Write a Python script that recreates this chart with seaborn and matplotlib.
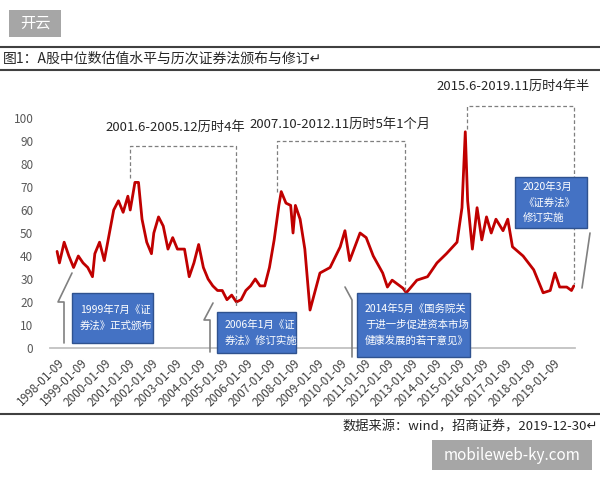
import matplotlib
matplotlib.use("Agg")
import matplotlib.pyplot as plt
import seaborn as sns
import pandas as pd
from matplotlib.patches import Rectangle

sns.set_theme(style="white")
plt.rcParams['font.family'] = ['Noto Sans CJK SC', 'DejaVu Sans']

years = [1998.0,1998.1,1998.3,1998.5,1998.7,1998.9,1999.1,1999.3,1999.5,1999.6,1999.8,2000.0,2000.2,2000.4,2000.6,2000.8,
         2001.0,2001.1,2001.3,2001.45,2001.6,2001.8,2002.0,2002.1,2002.3,2002.5,2002.7,2002.9,2003.1,2003.4,2003.6,2003.8,
         2004.0,2004.2,2004.4,2004.6,2004.8,2005.0,2005.2,2005.4,2005.6,2005.8,2006.0,2006.2,2006.4,2006.6,2006.8,2007.0,
         2007.2,2007.4,2007.5,2007.7,2007.9,2008.0,2008.1,2008.3,2008.5,2008.72,2009.14,2009.57,2010.0,2010.2,2010.4,2010.84,
         2011.1,2011.4,2011.8,2012.0,2012.2,2012.66,2012.8,2013.25,2013.7,2014.1,2014.5,2014.95,2015.16,2015.3,2015.4,2015.6,
         2015.8,2016.0,2016.2,2016.4,2016.6,2016.9,2017.1,2017.3,2017.75,2018.2,2018.6,2018.9,2019.1,2019.3,2019.6,2019.8,2019.9]
values = [42,37,46,40,35,40,37,35,31,41,46,38,49,60,64,59,
          66,60,72,72,56,46,41,50,57,53,43,48,43,43,31,37,
          45,35,30,27,25,25,21,23,20,21,25,27,30,27,27,35,
          47,62,68,63,62,50,62,56,43,16.5,32.6,35,44,51,38,50,
          48,40,32.6,26.5,29.5,26,24,29.5,31,37,41,46,61,94,64,43,
          61,47,57,50,56,51,56,44,40,34,24,25,32.6,26.5,26.5,25,27]
tick_years = list(range(1998, 2020))
tick_labels = [f"{y}-01-09" for y in tick_years]
y_ticks = list(range(0, 101, 10))

W, H = 600, 480
fig = plt.figure(figsize=(6, 4.8), dpi=100)
def fx(px): return px / W
def fy(py): return 1 - py / H

ax = fig.add_axes([fx(50), fy(348), fx(575) - fx(50), fy(118) - fy(348)])
df = pd.DataFrame({"year": years, "value": values})
sns.lineplot(data=df, x="year", y="value", ax=ax, color="#C00000", linewidth=2.0)
ax.set_xlim(1997.70, 2019.95)
ax.set_ylim(0, 100)
ax.set_xticks([y + 0.02 for y in tick_years])
ax.set_xticklabels(tick_labels, rotation=45, ha="right", rotation_mode="anchor", fontsize=8.5, color="#404040")
ax.set_yticks(y_ticks)
ax.set_yticklabels([str(v) for v in y_ticks], fontsize=8.5, color="#595959")
ax.tick_params(axis="x", length=4, color="#bfbfbf", pad=2)
ax.tick_params(axis="y", length=0, pad=12)
for s in ["top", "right", "left"]:
    ax.spines[s].set_visible(False)
ax.spines["bottom"].set_color("#bfbfbf")
ax.set_xlabel(""); ax.set_ylabel("")

dash = dict(color="#7f7f7f", linestyle=(0, (3, 2)), linewidth=0.9, clip_on=False)
def bracket(x1, x2, ytop, yb1, yb2):
    ax.plot([x1, x1, x2, x2], [yb1, ytop, ytop, yb2], **dash)
bracket(2001.07, 2005.58, 88, 74, 18)
bracket(2007.32, 2012.75, 90, 68, 25)
bracket(2015.37, 2019.9, 105, 95, 28)

ft = fig.text
ft(fx(175), fy(127), "2001.6-2005.12历时4年", ha="center", va="center", fontsize=9.5, color="#262626")
ft(fx(340), fy(124), "2007.10-2012.11历时5年1个月", ha="center", va="center", fontsize=9.5, color="#262626")
ft(fx(513), fy(86), "2015.6-2019.11历时4年半", ha="center", va="center", fontsize=9.5, color="#262626")

def box(x0, y0, x1, y1, text):
    fig.patches.append(Rectangle((fx(x0), fy(y1)), fx(x1) - fx(x0), fy(y0) - fy(y1),
                                 transform=fig.transFigure, facecolor="#4472C4", edgecolor="#2F528F", linewidth=1))
    ft(fx(x0 + 8), fy((y0 + y1) / 2), text, ha="left", va="center", fontsize=7.5, color="white", linespacing=1.7)

def poly(pts):
    fig.add_artist(plt.Line2D([fx(p[0]) for p in pts], [fy(p[1]) for p in pts], color="#808080", linewidth=1.2))

poly([(64, 343), (64, 302), (58, 302), (72, 273)])
poly([(210, 352), (210, 320), (204, 320), (213, 303)])
poly([(352, 357), (352, 300), (345, 287)])
poly([(582, 288), (590, 233)])
box(72, 293, 153, 343, "1999年7月《证\n券法》正式颁布")
box(217, 312, 296, 353, "2006年1月《证\n券法》修订实施")
box(357, 293, 470, 357, "2014年5月《国务院关\n于进一步促进资本市场\n健康发展的若干意见》")
box(515, 177, 587, 228, "2020年3月\n《证券法》\n修订实施")

fig.patches.append(Rectangle((fx(9), fy(37)), fx(52), fy(10) - fy(37), transform=fig.transFigure,
                             facecolor="#a6a6a6", edgecolor="none"))
ft(fx(35), fy(23.5), "开云", ha="center", va="center", fontsize=11, color="white")
for yy in [47, 70, 414]:
    fig.add_artist(plt.Line2D([0, 1], [fy(yy), fy(yy)], color="#404040", linewidth=1.5))
ft(fx(3), fy(58.5), "图1：A股中位数估值水平与历次证券法颁布与修订↵", ha="left", va="center", fontsize=10, color="#262626")
ft(fx(598), fy(427), "数据来源：wind，招商证券，2019-12-30↵", ha="right", va="center", fontsize=9.5, color="#262626")
fig.patches.append(Rectangle((fx(432), fy(470)), fx(160), fy(440) - fy(470), transform=fig.transFigure,
                             facecolor="#a6a6a6", edgecolor="none"))
ft(fx(512), fy(455), "mobileweb-ky.com", ha="center", va="center", fontsize=11, color="white")

fig.savefig("out.png", dpi=100)
